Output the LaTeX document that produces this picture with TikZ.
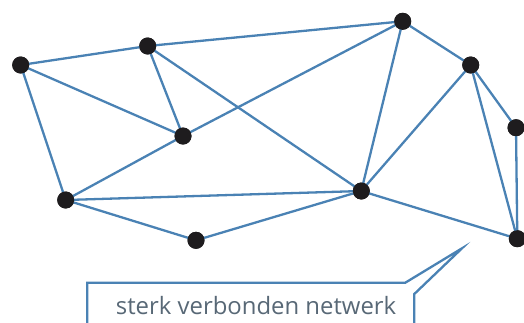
\documentclass[tikz,border=0pt]{standalone}
\usepackage{fontspec}
\setmainfont{Open Sans}
\definecolor{edgeblue}{RGB}{74,130,180}
\definecolor{txtgray}{RGB}{88,104,118}
\definecolor{dotblack}{RGB}{30,28,30}
\begin{document}
\begin{tikzpicture}[x=1pt,y=-1pt,
  vtx/.style={circle,fill=dotblack,inner sep=0pt,minimum size=17pt},
  link/.style={draw=edgeblue,line width=2.3pt},
  callout/.style={draw=edgeblue,line width=2.3pt,line join=miter}]
\useasboundingbox (0,0) rectangle (524,322);
\node[vtx] (A) at (20.7,65) {};
\node[vtx] (B) at (147.7,46) {};
\node[vtx] (C) at (402.7,21.3) {};
\node[vtx] (D) at (470.7,65) {};
\node[vtx] (E) at (516,127.7) {};
\node[vtx] (F) at (183,136) {};
\node[vtx] (G) at (65.7,200) {};
\node[vtx] (H) at (361.3,191) {};
\node[vtx] (I) at (196,240.3) {};
\node[vtx] (J) at (517.3,238.7) {};
\foreach \u/\v in {A/B,B/C,A/F,A/G,B/F,B/H,F/C,G/F,C/D,C/H,D/H,D/E,D/J,E/J,G/H,G/I,I/H,H/J}
  \draw[link] (\u.center) -- (\v.center);
\foreach \n in {A,B,C,D,E,F,G,H,I,J}
  \node[vtx] at (\n) {};
\coordinate (p1) at (87.3,323);
\coordinate (p2) at (87.3,282.7);
\coordinate (p3) at (405.3,282.7);
\coordinate (tip) at (462,248.3);
\coordinate (p4) at (414.3,294);
\coordinate (p5) at (414.3,323);
\draw[callout] (p1) -- (p2) -- (p3) -- (tip) -- (p4) -- (p5);
\node[anchor=base west,inner sep=0pt,text=txtgray,font=\fontsize{23.9}{27}\selectfont] (lbl) at (115.7,314) {sterk verbonden netwerk};
\end{tikzpicture}
\end{document}
